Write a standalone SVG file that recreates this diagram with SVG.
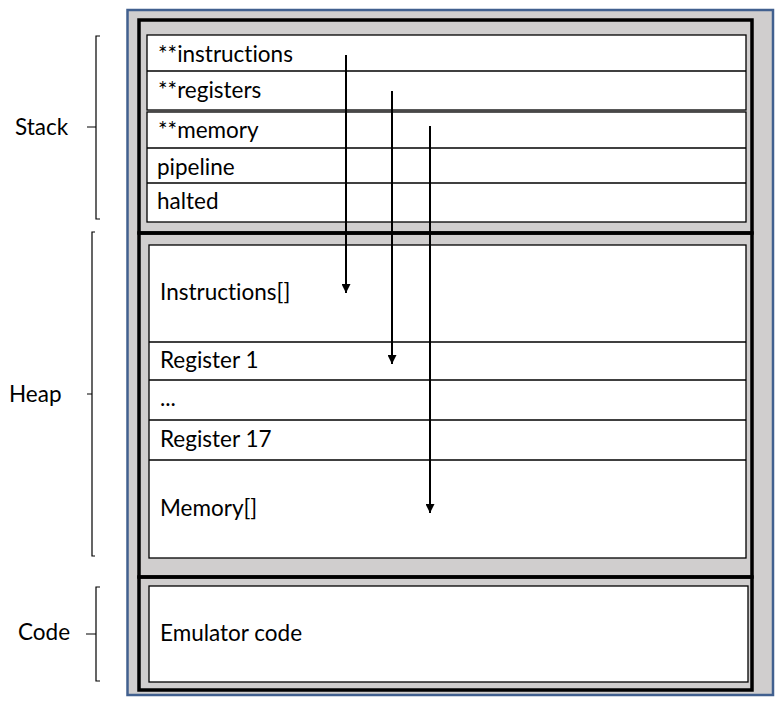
<svg xmlns="http://www.w3.org/2000/svg" width="782" height="705" viewBox="0 0 782 705">
<defs>
<style>
.lbl{font-family:Lato,"Liberation Sans",sans-serif;font-size:22.5px;fill:#000;font-variant-ligatures:none}
.cell{fill:#fff;stroke:#000;stroke-width:1.3}
.sep{stroke:#000;stroke-width:1.3}
.box{fill:none;stroke:#000;stroke-width:3.5}
.brace{fill:none;stroke:#000;stroke-width:1.2}
.arr{stroke:#000;stroke-width:2;fill:none;marker-end:url(#ah)}
</style>
<marker id="ah" viewBox="0 0 10 10" refX="10" refY="5" markerWidth="4.5" markerHeight="4.5" orient="auto" markerUnits="strokeWidth">
<path d="M0,0 L10,5 L0,10 Z" fill="#000"/>
</marker>
</defs>
<rect width="782" height="705" fill="#fff"/>
<rect id="frame" x="127.5" y="10" width="645.5" height="685" fill="#d0cece" stroke="#41608f" stroke-width="2.5"/>
<g id="stack">
<rect class="box" x="139" y="20" width="613" height="213"/>
<rect class="cell" x="147" y="35" width="599" height="75"/>
<line class="sep" x1="147" y1="71" x2="746" y2="71"/>
<rect class="cell" x="147" y="112" width="599" height="110"/>
<line class="sep" x1="147" y1="148" x2="746" y2="148"/>
<line class="sep" x1="147" y1="183" x2="746" y2="183"/>
<text class="lbl" x="158" y="62">**instructions</text>
<text class="lbl" x="158" y="98">**registers</text>
<text class="lbl" x="158" y="138">**memory</text>
<text class="lbl" x="157" y="175">pipeline</text>
<text class="lbl" x="157" y="209">halted</text>
</g>
<g id="heap">
<rect class="box" x="139" y="233" width="613" height="344"/>
<rect class="cell" x="149" y="245" width="597" height="313"/>
<line class="sep" x1="149" y1="342" x2="746" y2="342"/>
<line class="sep" x1="149" y1="380" x2="746" y2="380"/>
<line class="sep" x1="149" y1="420" x2="746" y2="420" stroke-width="1.8"/>
<line class="sep" x1="149" y1="460" x2="746" y2="460" stroke-width="1.8"/>
<text class="lbl" x="160" y="300">Instructions[]</text>
<text class="lbl" x="160" y="368">Register 1</text>
<text class="lbl" x="160" y="406">...</text>
<text class="lbl" x="160" y="447">Register 17</text>
<text class="lbl" x="160" y="516">Memory[]</text>
</g>
<g id="code">
<rect class="box" x="139" y="577" width="613" height="113"/>
<rect class="cell" x="149" y="586" width="599" height="96"/>
<text class="lbl" x="160" y="641">Emulator code</text>
</g>
<g id="labels">
<path class="brace" d="M100,36 H96 V219 H100 M96,127 H87"/>
<text class="lbl" x="15" y="135">Stack</text>
<path class="brace" d="M95,232 H92 V556 H95 M92,394 H87"/>
<text class="lbl" x="9" y="402">Heap</text>
<path class="brace" d="M100,587 H96 V681 H100 M96,634 H86"/>
<text class="lbl" x="18" y="640">Code</text>
</g>
<g id="connectors">
<line class="arr" x1="346" y1="55" x2="346" y2="293"/>
<line class="arr" x1="392" y1="91" x2="392" y2="364"/>
<line class="arr" x1="430" y1="126" x2="430" y2="513"/>
</g>
</svg>
